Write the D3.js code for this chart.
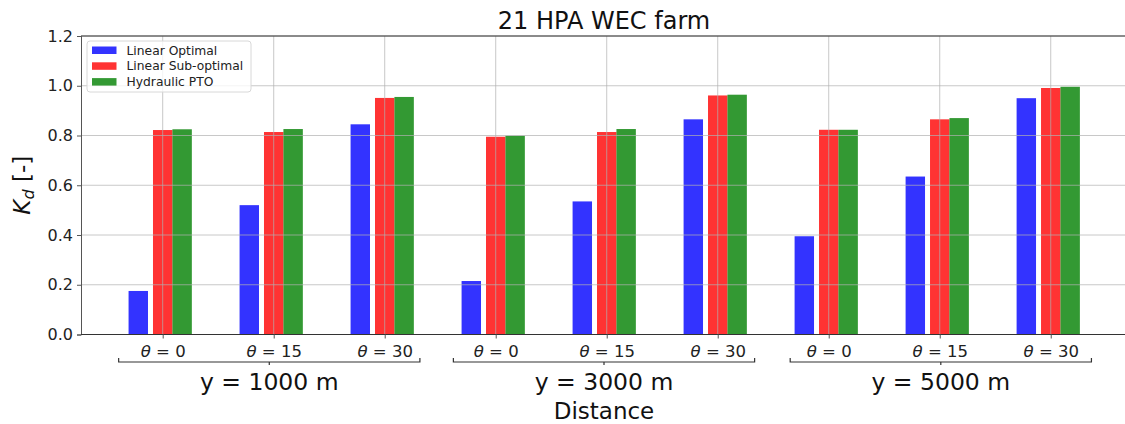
<!DOCTYPE html>
<html>
<head>
<meta charset="utf-8">
<script src="https://cdn.jsdelivr.net/npm/d3@7"></script>
<style>
  body { margin: 0; background: #fff; }
  svg { font-family: "DejaVu Sans", sans-serif; display: block; }
</style>
</head>
<body>
<svg width="1125" height="424"></svg>
<script>
// data
const angles = ["0", "15", "30"];
const distances = ["y = 1000 m", "y = 3000 m", "y = 5000 m"];
const seriesNames = ["Linear Optimal", "Linear Sub-optimal", "Hydraulic PTO"];
const linearOptimal    = [0.175, 0.52, 0.845, 0.215, 0.535, 0.865, 0.395, 0.635, 0.95];
const linearSubOptimal = [0.822, 0.814, 0.951, 0.795, 0.814, 0.961, 0.823, 0.865, 0.991];
const hydraulicPTO     = [0.825, 0.826, 0.955, 0.799, 0.826, 0.964, 0.823, 0.870, 0.996];
const yTicks = [0, 0.2, 0.4, 0.6, 0.8, 1.0, 1.2];

const colors = ["#0000ff", "#ff0000", "#008000"];
const offsets = [-0.22, 0, 0.175];   // bar offsets in x units
const barWidth = 0.175;

const svg = d3.select("svg");
const margin = {left: 81, right: 1127, top: 36, bottom: 334.5};

// every bar position on the x axis (distance x angle)
const positions = d3.range(distances.length * angles.length);

const x = d3.scaleLinear()
    .domain([-0.736, 8.687])
    .range([margin.left, margin.right]);
const y = d3.scaleLinear()
    .domain([0, 1.2])
    .range([margin.bottom, margin.top]);

// bars (alpha 0.8 like the original)
const series = [linearOptimal, linearSubOptimal, hydraulicPTO];
series.forEach((vals, s) => {
  svg.append("g")
    .selectAll("rect")
    .data(vals)
    .join("rect")
      .attr("x", (d, i) => x(i + offsets[s] - barWidth / 2))
      .attr("width", x(barWidth) - x(0))
      .attr("y", d => y(d))
      .attr("height", d => y(0) - y(d))
      .attr("fill", colors[s])
      .attr("fill-opacity", 0.8);
});

// grid drawn on top, semi transparent
const grid = svg.append("g").attr("stroke", "#b0b0b0").attr("stroke-opacity", 0.7);
grid.selectAll(".gy")
  .data(yTicks.slice(1))
  .join("line")
    .attr("x1", margin.left).attr("x2", margin.right)
    .attr("y1", d => y(d)).attr("y2", d => y(d));
grid.selectAll(".gx")
  .data(positions)
  .join("line")
    .attr("x1", d => x(d)).attr("x2", d => x(d))
    .attr("y1", margin.top).attr("y2", margin.bottom);

// y axis
const yAxis = d3.axisLeft(y).tickValues(yTicks).tickFormat(d3.format(".1f")).tickSize(4).tickPadding(4);
svg.append("g")
    .attr("transform", `translate(${margin.left},0)`)
    .call(yAxis)
    .call(g => g.select(".domain").attr("stroke", "#555"))
    .call(g => g.selectAll(".tick line").attr("stroke", "#555"))
    .call(g => g.selectAll("text").attr("font-size", 16).attr("fill", "#222").attr("font-family", "DejaVu Sans"));

// x axis with theta labels
const xAxis = d3.axisBottom(x).tickValues(positions).tickSize(4).tickPadding(3).tickFormat(() => "");
const xg = svg.append("g")
    .attr("transform", `translate(0,${margin.bottom})`)
    .call(xAxis)
    .call(g => g.select(".domain").attr("stroke", "#333").attr("d", `M${margin.left},0H${margin.right}`))
    .call(g => g.selectAll(".tick line").attr("stroke", "#555"));
xg.selectAll(".tick text")
    .attr("font-size", 16.5).attr("fill", "#222").attr("font-family", "DejaVu Sans")
    .attr("dy", "0.95em")
    .each(function(d) {
      const t = d3.select(this);
      t.append("tspan").attr("font-style", "italic").text("θ");
      t.append("tspan").text(" = " + angles[d % angles.length]);
    });

// top spine
svg.append("line")
    .attr("x1", margin.left).attr("x2", margin.right)
    .attr("y1", margin.top).attr("y2", margin.top)
    .attr("stroke", "#333");

// distance brackets (axes fraction)
const bracketCenters = [0.18, 0.5, 0.822];
const bracketHalf = 0.144;
const bw = margin.right - margin.left;
const by = 362;
const brackets = svg.append("g").attr("fill", "none").attr("stroke", "#333").attr("stroke-width", 1.2);
bracketCenters.forEach((c, i) => {
  const cx = margin.left + c * bw;
  const x0 = cx - bracketHalf * bw, x1 = cx + bracketHalf * bw;
  brackets.append("path")
    .attr("d", `M${x0},${by - 4}V${by}H${x1}V${by - 4}M${cx},${by}V${by + 3}`);
  svg.append("text")
    .attr("x", cx).attr("y", 390)
    .attr("text-anchor", "middle")
    .attr("font-size", 23.5).attr("fill", "#111")
    .text(distances[i]);
});

// axis titles
svg.append("text")
    .attr("x", 604).attr("y", 419)
    .attr("text-anchor", "middle")
    .attr("font-size", 23).attr("fill", "#111")
    .text("Distance");

const yl = svg.append("text")
    .attr("transform", `translate(30,${y(0.6)}) rotate(-90)`)
    .attr("text-anchor", "middle")
    .attr("font-size", 23).attr("fill", "#111");
yl.append("tspan").attr("font-style", "italic").text("K");
yl.append("tspan").attr("font-style", "italic").attr("font-size", 16).attr("dy", 4).text("d");
yl.append("tspan").attr("dy", -4).text(" [-]");

svg.append("text")
    .attr("x", 604).attr("y", 29)
    .attr("text-anchor", "middle")
    .attr("font-size", 24).attr("fill", "#111")
    .text("21 HPA WEC farm");

// legend
const legend = svg.append("g").attr("transform", "translate(87,41)");
legend.append("rect")
    .attr("width", 164).attr("height", 51).attr("rx", 3)
    .attr("fill", "#fff").attr("fill-opacity", 0.8)
    .attr("stroke", "#d8d8d8");
seriesNames.forEach((name, i) => {
  const row = legend.append("g").attr("transform", `translate(5,${9 + i * 15.8})`);
  row.append("rect")
    .attr("y", -3.5).attr("width", 24.5).attr("height", 7.5)
    .attr("fill", colors[i]).attr("fill-opacity", 0.8);
  row.append("text")
    .attr("x", 34.5).attr("y", 4.5)
    .attr("font-size", 12.3).attr("fill", "#222")
    .text(name);
});
</script>
</body>
</html>
